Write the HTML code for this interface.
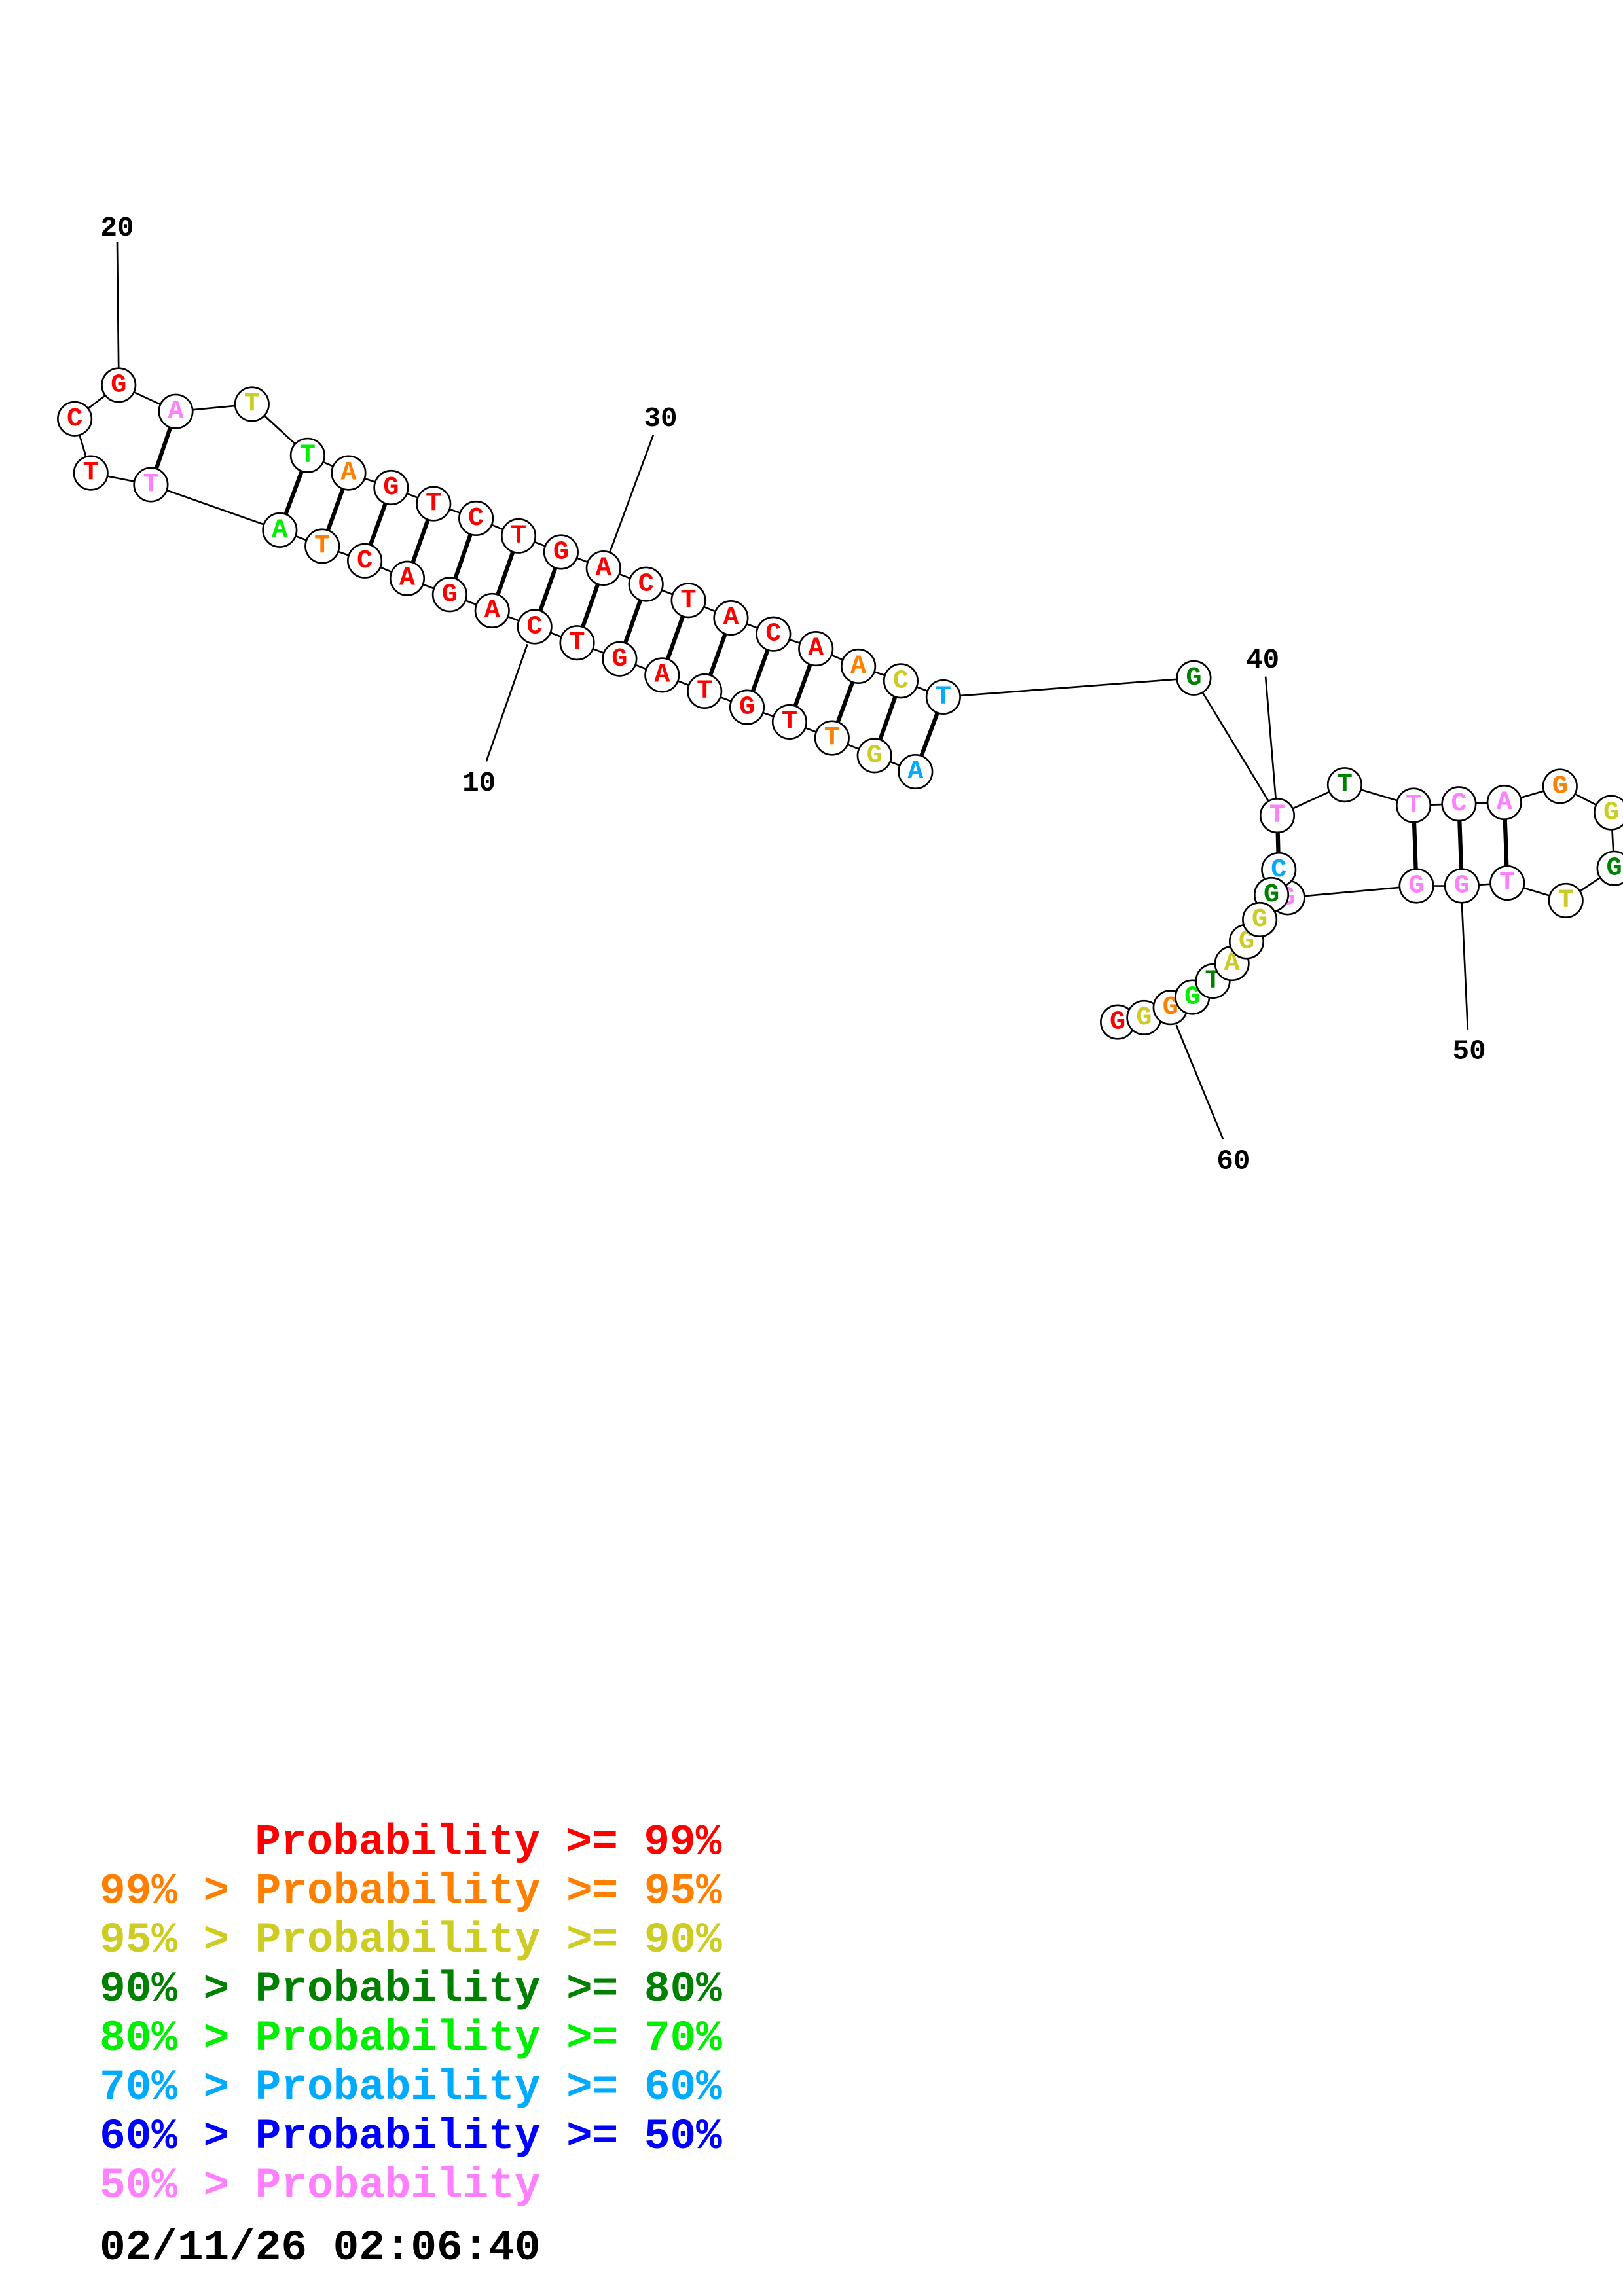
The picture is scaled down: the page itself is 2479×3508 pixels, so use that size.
<!DOCTYPE html>
<html><head><meta charset="utf-8"><style>
html,body{margin:0;padding:0;background:#fff;}
svg{display:block;}
.n{fill:#fff;stroke:#000;stroke-width:1.2;}
.l{font-family:"Liberation Mono",monospace;font-weight:bold;font-size:18px;text-anchor:middle;dominant-baseline:central;}
.b{stroke:#000;stroke-width:1.2;fill:none;}
.p{stroke:#000;stroke-width:2.8;}
.num{font-family:"Liberation Mono",monospace;font-weight:bold;font-size:19px;text-anchor:middle;}
.lg{font-family:"Liberation Mono",monospace;font-weight:bold;font-size:29.5px;}
</style></head><body>
<svg width="2479" height="3508" viewBox="0 0 1108 1568" preserveAspectRatio="none" xmlns="http://www.w3.org/2000/svg">
<rect width="1108" height="1568" fill="#fff"/>
<polyline class="b" points="625,527 597,516 568,504 539,493 510,483 481,472 452,461 423,450 394,439 365,428 336,417 307,406 278,395 249,383 220,373 191,362 103,331 62,323 51,286 81,263 120,281 172,276 210,311 238,323 267,333 296,344 325,354 354,366 383,377 412,388 441,399 470,410 499,422 528,433 557,443 586,455 615,465 644,476 815,463 872,557 918,536 965,550 996,549 1027,548 1065,537 1100,555 1102,593 1069,615 1029,603 998,605 967,605 879,613 873,594 868,611 860,628 851,643 841,658 828,670 814,681 799,688 781,695 763,698"/>
<g class="p">
<line x1="625" y1="527" x2="644" y2="476"/>
<line x1="597" y1="516" x2="615" y2="465"/>
<line x1="568" y1="504" x2="586" y2="455"/>
<line x1="539" y1="493" x2="557" y2="443"/>
<line x1="510" y1="483" x2="528" y2="433"/>
<line x1="481" y1="472" x2="499" y2="422"/>
<line x1="452" y1="461" x2="470" y2="410"/>
<line x1="423" y1="450" x2="441" y2="399"/>
<line x1="394" y1="439" x2="412" y2="388"/>
<line x1="365" y1="428" x2="383" y2="377"/>
<line x1="336" y1="417" x2="354" y2="366"/>
<line x1="307" y1="406" x2="325" y2="354"/>
<line x1="278" y1="395" x2="296" y2="344"/>
<line x1="249" y1="383" x2="267" y2="333"/>
<line x1="220" y1="373" x2="238" y2="323"/>
<line x1="191" y1="362" x2="210" y2="311"/>
<line x1="103" y1="331" x2="120" y2="281"/>
<line x1="872" y1="557" x2="873" y2="594"/>
<line x1="965" y1="550" x2="967" y2="605"/>
<line x1="996" y1="549" x2="998" y2="605"/>
<line x1="1027" y1="548" x2="1029" y2="603"/>
</g>
<g class="b">
<line x1="81" y1="252" x2="80" y2="165"/>
<line x1="360" y1="440" x2="332" y2="520"/>
<line x1="416" y1="378" x2="446" y2="297"/>
<line x1="871" y1="546" x2="864" y2="462"/>
<line x1="998" y1="617" x2="1002" y2="703"/>
<line x1="803" y1="700" x2="835" y2="778"/>
</g>
<text class="num" x="80" y="161">20</text>
<text class="num" x="327" y="540">10</text>
<text class="num" x="451" y="291">30</text>
<text class="num" x="862" y="456">40</text>
<text class="num" x="1003" y="723">50</text>
<text class="num" x="842" y="798">60</text>
<g>
<circle class="n" cx="625" cy="527" r="11.5"/><text class="l" x="625" y="527" fill="#00aaff">A</text>
<circle class="n" cx="597" cy="516" r="11.5"/><text class="l" x="597" y="516" fill="#cccc22">G</text>
<circle class="n" cx="568" cy="504" r="11.5"/><text class="l" x="568" y="504" fill="#ff8000">T</text>
<circle class="n" cx="539" cy="493" r="11.5"/><text class="l" x="539" y="493" fill="#ff0000">T</text>
<circle class="n" cx="510" cy="483" r="11.5"/><text class="l" x="510" y="483" fill="#ff0000">G</text>
<circle class="n" cx="481" cy="472" r="11.5"/><text class="l" x="481" y="472" fill="#ff0000">T</text>
<circle class="n" cx="452" cy="461" r="11.5"/><text class="l" x="452" y="461" fill="#ff0000">A</text>
<circle class="n" cx="423" cy="450" r="11.5"/><text class="l" x="423" y="450" fill="#ff0000">G</text>
<circle class="n" cx="394" cy="439" r="11.5"/><text class="l" x="394" y="439" fill="#ff0000">T</text>
<circle class="n" cx="365" cy="428" r="11.5"/><text class="l" x="365" y="428" fill="#ff0000">C</text>
<circle class="n" cx="336" cy="417" r="11.5"/><text class="l" x="336" y="417" fill="#ff0000">A</text>
<circle class="n" cx="307" cy="406" r="11.5"/><text class="l" x="307" y="406" fill="#ff0000">G</text>
<circle class="n" cx="278" cy="395" r="11.5"/><text class="l" x="278" y="395" fill="#ff0000">A</text>
<circle class="n" cx="249" cy="383" r="11.5"/><text class="l" x="249" y="383" fill="#ff0000">C</text>
<circle class="n" cx="220" cy="373" r="11.5"/><text class="l" x="220" y="373" fill="#ff8000">T</text>
<circle class="n" cx="191" cy="362" r="11.5"/><text class="l" x="191" y="362" fill="#00ee00">A</text>
<circle class="n" cx="103" cy="331" r="11.5"/><text class="l" x="103" y="331" fill="#ff80ff">T</text>
<circle class="n" cx="62" cy="323" r="11.5"/><text class="l" x="62" y="323" fill="#ff0000">T</text>
<circle class="n" cx="51" cy="286" r="11.5"/><text class="l" x="51" y="286" fill="#ff0000">C</text>
<circle class="n" cx="81" cy="263" r="11.5"/><text class="l" x="81" y="263" fill="#ff0000">G</text>
<circle class="n" cx="120" cy="281" r="11.5"/><text class="l" x="120" y="281" fill="#ff80ff">A</text>
<circle class="n" cx="172" cy="276" r="11.5"/><text class="l" x="172" y="276" fill="#cccc22">T</text>
<circle class="n" cx="210" cy="311" r="11.5"/><text class="l" x="210" y="311" fill="#00ee00">T</text>
<circle class="n" cx="238" cy="323" r="11.5"/><text class="l" x="238" y="323" fill="#ff8000">A</text>
<circle class="n" cx="267" cy="333" r="11.5"/><text class="l" x="267" y="333" fill="#ff0000">G</text>
<circle class="n" cx="296" cy="344" r="11.5"/><text class="l" x="296" y="344" fill="#ff0000">T</text>
<circle class="n" cx="325" cy="354" r="11.5"/><text class="l" x="325" y="354" fill="#ff0000">C</text>
<circle class="n" cx="354" cy="366" r="11.5"/><text class="l" x="354" y="366" fill="#ff0000">T</text>
<circle class="n" cx="383" cy="377" r="11.5"/><text class="l" x="383" y="377" fill="#ff0000">G</text>
<circle class="n" cx="412" cy="388" r="11.5"/><text class="l" x="412" y="388" fill="#ff0000">A</text>
<circle class="n" cx="441" cy="399" r="11.5"/><text class="l" x="441" y="399" fill="#ff0000">C</text>
<circle class="n" cx="470" cy="410" r="11.5"/><text class="l" x="470" y="410" fill="#ff0000">T</text>
<circle class="n" cx="499" cy="422" r="11.5"/><text class="l" x="499" y="422" fill="#ff0000">A</text>
<circle class="n" cx="528" cy="433" r="11.5"/><text class="l" x="528" y="433" fill="#ff0000">C</text>
<circle class="n" cx="557" cy="443" r="11.5"/><text class="l" x="557" y="443" fill="#ff0000">A</text>
<circle class="n" cx="586" cy="455" r="11.5"/><text class="l" x="586" y="455" fill="#ff8000">A</text>
<circle class="n" cx="615" cy="465" r="11.5"/><text class="l" x="615" y="465" fill="#cccc22">C</text>
<circle class="n" cx="644" cy="476" r="11.5"/><text class="l" x="644" y="476" fill="#00aaff">T</text>
<circle class="n" cx="815" cy="463" r="11.5"/><text class="l" x="815" y="463" fill="#008000">G</text>
<circle class="n" cx="872" cy="557" r="11.5"/><text class="l" x="872" y="557" fill="#ff80ff">T</text>
<circle class="n" cx="918" cy="536" r="11.5"/><text class="l" x="918" y="536" fill="#008000">T</text>
<circle class="n" cx="965" cy="550" r="11.5"/><text class="l" x="965" y="550" fill="#ff80ff">T</text>
<circle class="n" cx="996" cy="549" r="11.5"/><text class="l" x="996" y="549" fill="#ff80ff">C</text>
<circle class="n" cx="1027" cy="548" r="11.5"/><text class="l" x="1027" y="548" fill="#ff80ff">A</text>
<circle class="n" cx="1065" cy="537" r="11.5"/><text class="l" x="1065" y="537" fill="#ff8000">G</text>
<circle class="n" cx="1100" cy="555" r="11.5"/><text class="l" x="1100" y="555" fill="#cccc22">G</text>
<circle class="n" cx="1102" cy="593" r="11.5"/><text class="l" x="1102" y="593" fill="#008000">G</text>
<circle class="n" cx="1069" cy="615" r="11.5"/><text class="l" x="1069" y="615" fill="#cccc22">T</text>
<circle class="n" cx="1029" cy="603" r="11.5"/><text class="l" x="1029" y="603" fill="#ff80ff">T</text>
<circle class="n" cx="998" cy="605" r="11.5"/><text class="l" x="998" y="605" fill="#ff80ff">G</text>
<circle class="n" cx="967" cy="605" r="11.5"/><text class="l" x="967" y="605" fill="#ff80ff">G</text>
<circle class="n" cx="879" cy="613" r="11.5"/><text class="l" x="879" y="613" fill="#ff80ff">G</text>
<circle class="n" cx="873" cy="594" r="11.5"/><text class="l" x="873" y="594" fill="#00aaff">C</text>
<circle class="n" cx="868" cy="611" r="11.5"/><text class="l" x="868" y="611" fill="#008000">G</text>
<circle class="n" cx="763" cy="698" r="11.5"/><text class="l" x="763" y="698" fill="#ff0000">G</text>
<circle class="n" cx="781" cy="695" r="11.5"/><text class="l" x="781" y="695" fill="#cccc22">G</text>
<circle class="n" cx="799" cy="688" r="11.5"/><text class="l" x="799" y="688" fill="#ff8000">G</text>
<circle class="n" cx="814" cy="681" r="11.5"/><text class="l" x="814" y="681" fill="#00ee00">G</text>
<circle class="n" cx="828" cy="670" r="11.5"/><text class="l" x="828" y="670" fill="#008000">T</text>
<circle class="n" cx="841" cy="658" r="11.5"/><text class="l" x="841" y="658" fill="#cccc22">A</text>
<circle class="n" cx="851" cy="643" r="11.5"/><text class="l" x="851" y="643" fill="#cccc22">G</text>
<circle class="n" cx="860" cy="628" r="11.5"/><text class="l" x="860" y="628" fill="#cccc22">G</text>
</g>
<g class="lg">
<text x="174" y="1266" fill="#ff0000">Probability &gt;= 99%</text>
<text x="68" y="1299.5" fill="#ff8000">99% &gt; Probability &gt;= 95%</text>
<text x="68" y="1333" fill="#cccc22">95% &gt; Probability &gt;= 90%</text>
<text x="68" y="1366.5" fill="#008000">90% &gt; Probability &gt;= 80%</text>
<text x="68" y="1400" fill="#00ee00">80% &gt; Probability &gt;= 70%</text>
<text x="68" y="1433.5" fill="#00aaff">70% &gt; Probability &gt;= 60%</text>
<text x="68" y="1467" fill="#0000ff">60% &gt; Probability &gt;= 50%</text>
<text x="68" y="1500.5" fill="#ff80ff">50% &gt; Probability</text>
<text x="68" y="1543" fill="#000">02/11/26 02:06:40</text>
</g>
</svg>
</body></html>
